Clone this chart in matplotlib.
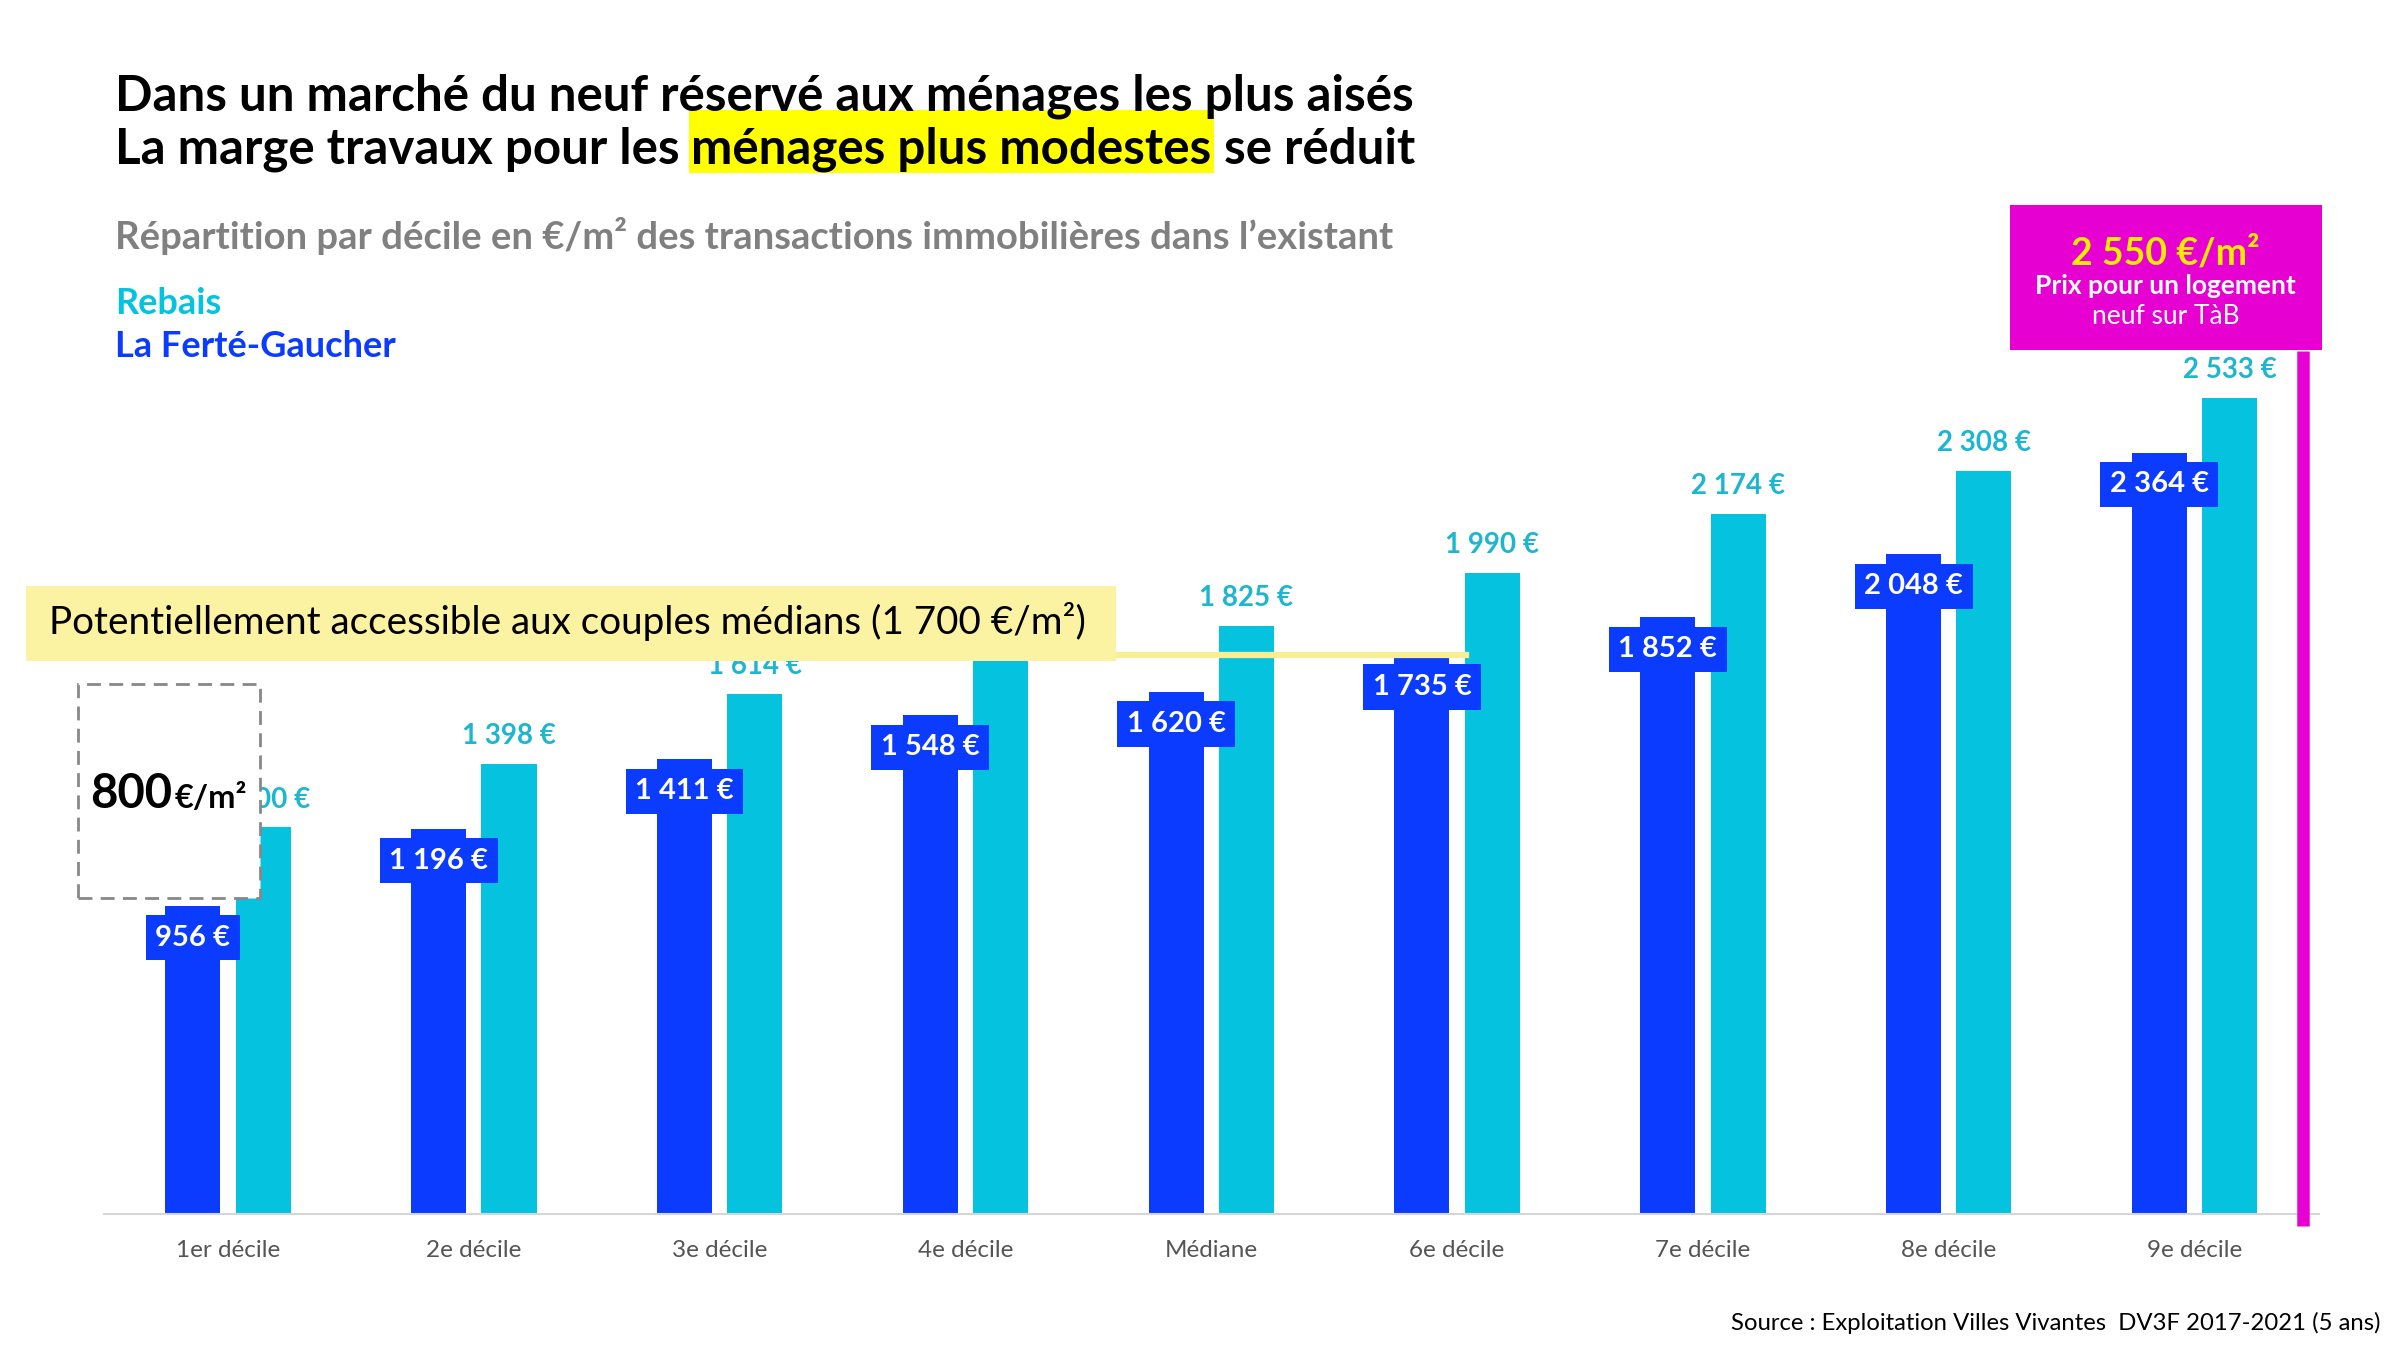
import matplotlib.pyplot as plt
import matplotlib.patches as patches
from matplotlib.lines import Line2D
import numpy as np

plt.rcParams['font.family'] = ['Lato', 'DejaVu Sans']

# données
deciles = ['1er décile', '2e décile', '3e décile', '4e décile', 'Médiane',
           '6e décile', '7e décile', '8e décile', '9e décile']
ferte = [956, 1196, 1411, 1548, 1620, 1735, 1852, 2048, 2364]
rebais = [1200, 1398, 1614, 1720, 1825, 1990, 2174, 2308, 2533]
prix_neuf = 2550

BLUE = '#0A3BFF'
CYAN = '#05C3DE'
CYAN_TXT = '#1DB6D1'
MAGENTA = '#E600D2'


def fmt(v):
    return f"{v:,}".replace(",", " ") + " €"


fig = plt.figure(figsize=(24, 13.5), dpi=100)
ax = fig.add_axes([0.0434, 0.1010, 0.9228, 0.6678])

x = np.arange(len(deciles))
w = 0.224
off = 0.143
ax.bar(x - off, ferte, w, color=BLUE, zorder=2)
ax.bar(x + off, rebais, w, color=CYAN, zorder=2)

for i, (xi, v) in enumerate(zip(x, rebais)):
    if i == 3:
        # étiquette masquée par le bandeau jaune dans l'original
        continue
    ax.annotate(fmt(v), (xi + off, v), xytext=(0, 20), textcoords='offset points',
                ha='center', va='center', color=CYAN_TXT, fontsize=20,
                fontweight='bold', zorder=3)
for xi, v in zip(x, ferte):
    ax.annotate(fmt(v), (xi - off, v), xytext=(0, -23), textcoords='offset points',
                ha='center', va='center', color='white', fontsize=21,
                fontweight='bold', zorder=4,
                bbox=dict(boxstyle='square,pad=0.33', fc=BLUE, ec='none'))

ax.set_xlim(-0.504, 8.506)
ax.set_ylim(0, 2800)
ax.set_xticks(x)
ax.set_xticklabels(deciles, fontsize=17.5, color='#555555')
ax.tick_params(axis='x', length=0, pad=19)
ax.set_yticks([])
for s in ['top', 'right', 'left']:
    ax.spines[s].set_visible(False)
ax.spines['bottom'].set_color('#D5D5D5')
ax.spines['bottom'].set_linewidth(1.5)

# ligne prix du neuf
ax.plot([8.443, 8.443], [-38, 2680], color=MAGENTA, lw=9,
        solid_capstyle='butt', clip_on=False, zorder=5)
fig.patches.append(patches.Rectangle((0.8374, 0.7404), 0.1301, 0.1077,
                                     transform=fig.transFigure, fc=MAGENTA,
                                     ec='none', zorder=5))
fig.text(0.9024, 0.8125, "2 550 €/m²", ha='center', va='center', color='#FFEA00',
         fontsize=27, fontweight='bold', zorder=6)
fig.text(0.9024, 0.788, "Prix pour un logement", ha='center', va='center',
         color='white', fontsize=19, fontweight='bold', zorder=6)
fig.text(0.9024, 0.7655, "neuf sur TàB", ha='center', va='center',
         color='white', fontsize=19, zorder=6)

# bandeau jaune
fig.patches.append(patches.Rectangle((0.01084, 0.5102), 0.4541, 0.0556,
                                     transform=fig.transFigure, fc='#FBF3A2',
                                     ec='none', zorder=6))
fig.lines.append(Line2D([0.4649, 0.611], [0.5147, 0.5147], transform=fig.transFigure,
                        color='#F7EE95', lw=4.5, zorder=6))
fig.text(0.0204, 0.5397, "Potentiellement accessible aux couples médians (1 700 €/m²)",
         ha='left', va='center', fontsize=27.8, color='black', zorder=7)

# encadré 800
fig.patches.append(patches.Rectangle((0.0325, 0.3345), 0.0759, 0.1587,
                                     transform=fig.transFigure, fc='white',
                                     ec='#888888', lw=2, ls=(0, (5, 3)), zorder=6))
t800 = fig.text(0.0376, 0.4014, "800", ha='left', va='baseline', fontsize=34,
                fontweight='bold', zorder=7)

# titres
fig.text(0.0478, 0.9184, "Dans un marché du neuf réservé aux ménages les plus aisés",
         fontsize=35.5, fontweight='bold', va='baseline')
t_a = fig.text(0.0478, 0.8787, "La marge travaux pour les ", fontsize=35.5,
               fontweight='bold', va='baseline', zorder=3)
fig.text(0.0478, 0.8152,
         "Répartition par décile en €/m² des transactions immobilières dans l’existant",
         fontsize=27.5, fontweight='bold', color='#808080', va='baseline')
fig.text(0.0478, 0.7676, "Rebais", fontsize=26, fontweight='bold', color=CYAN,
         va='baseline')
fig.text(0.0478, 0.7358, "La Ferté-Gaucher", fontsize=26, fontweight='bold',
         color=BLUE, va='baseline')
fig.text(0.9917, 0.012, "Source : Exploitation Villes Vivantes  DV3F 2017-2021 (5 ans)",
         fontsize=17.2, ha='right', va='bottom')

fig.canvas.draw()
r = fig.canvas.get_renderer()
W = fig.bbox.width
bb = t_a.get_window_extent(r)
xb = bb.x1 / W
t_b = fig.text(xb, 0.8787, "ménages plus modestes", fontsize=35.5, fontweight='bold',
               va='baseline', zorder=3)
bb2 = t_b.get_window_extent(r)
xc = bb2.x1 / W
fig.patches.append(patches.Rectangle((xb - 0.001, 0.8719), xc - xb + 0.002, 0.0465,
                                     transform=fig.transFigure, fc='#FFFF00',
                                     ec='none', zorder=1))
fig.text(xc, 0.8787, " se réduit", fontsize=35.5, fontweight='bold', va='baseline',
         zorder=3)
bb3 = t800.get_window_extent(r)
fig.text(bb3.x1 / W + 0.001, 0.4014, "€/m²", fontsize=23.5, fontweight='bold',
         va='baseline', zorder=7)

fig.savefig('out.png', dpi=100)
